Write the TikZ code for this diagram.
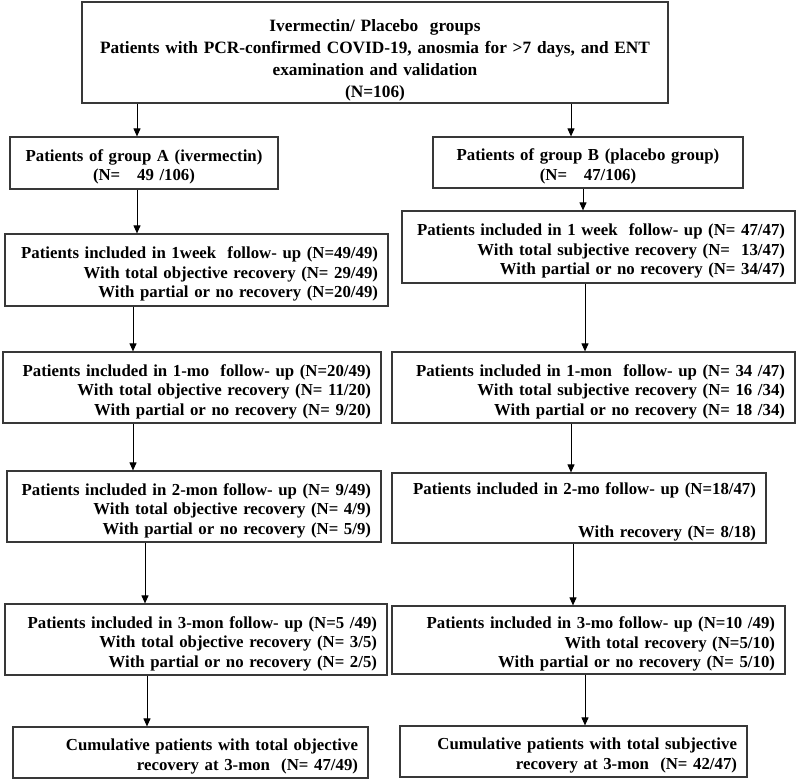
\documentclass[tikz,border=0pt]{standalone}
\usepackage{fontspec}
\setmainfont{Liberation Serif}
\usetikzlibrary{arrows.meta}
\begin{document}
\begin{tikzpicture}[x=1pt,y=-1pt,
  fbox/.style={draw=black!78, line width=1.2pt, rectangle, inner xsep=10pt, inner ysep=0pt,
    font={\fontsize{16.8}{19.5}\selectfont\bfseries}, align=right,
    execute at begin node={\rule{0pt}{20pt}}},
  sz/.code 2 args={\pgfmathsetmacro\boxtw{#1-20}\tikzset{minimum width=#1pt,minimum height=#2pt,text width=\boxtw pt}},
  arr/.style={line width=1pt, black, -{Triangle[width=7pt,length=8pt]}}]
\useasboundingbox (0,0) rectangle (798,781);

\node[fbox, sz={586}{101}, align=center, font={\fontsize{17.3}{19.5}\selectfont\bfseries},
      execute at begin node={\rule{0pt}{27pt}}] (root) at (375,52.5)
  {Ivermectin/ Placebo\ \ groups\\[2.5pt]
   Patients with PCR-confirmed COVID-19, anosmia for >7 days, and ENT\\[2.5pt]
   examination and validation\\[2.5pt]
   (N=106)};

\node[fbox, sz={268}{52}, align=center] (agrp) at (144,163)
  {Patients of group A (ivermectin)\\(N=\ \ \ 49 /106)};
\node[fbox, sz={310}{51}, align=center] (bgrp) at (588,162.5)
  {Patients of group B (placebo group)\\(N=\ \ \ 47/106)};

\node[fbox, sz={383}{72}] (a1) at (196.5,270)
  {Patients included in 1week\ \ follow- up (N=49/49)\\
   With total objective recovery (N= 29/49)\\
   With partial or no recovery (N=20/49)};
\node[fbox, sz={393}{72}] (b1) at (598.5,247)
  {Patients included in 1 week\ \ follow- up (N= 47/47)\\
   With total subjective recovery (N=\ \ 13/47)\hspace*{5pt}\\
   With partial or no recovery (N= 34/47)};

\node[fbox, sz={378}{71}] (a2) at (192,387.5)
  {Patients included in 1-mo\ \ follow- up (N=20/49)\\
   With total objective recovery (N= 11/20)\\
   With partial or no recovery (N= 9/20)};
\node[fbox, sz={403}{71}] (b2) at (593.5,387.5)
  {Patients included in 1-mon\ \ follow- up (N= 34 /47)\\
   With total subjective recovery (N= 16 /34)\hspace*{5pt}\\
   With partial or no recovery (N= 18 /34)};

\node[fbox, sz={374}{71}] (a3) at (194,506.5)
  {Patients included in 2-mon follow- up (N= 9/49)\\
   With total objective recovery (N= 4/9)\\
   With partial or no recovery (N= 5/9)};
\node[fbox, sz={374}{70}] (b3) at (579,508)
  {Patients included in 2-mo follow- up (N=18/47)\\[23pt]
   With recovery (N= 8/18)};

\node[fbox, sz={382}{71}] (a4) at (196,639.5)
  {Patients included in 3-mon follow- up (N=5 /49)\\
   With total objective recovery (N= 3/5)\\
   With partial or no recovery (N= 2/5)};
\node[fbox, sz={393}{68}] (b4) at (588.5,640)
  {Patients included in 3-mo follow- up (N=10 /49)\\
   With total recovery (N=5/10)\\
   With partial or no recovery (N= 5/10)};

\node[fbox, sz={355}{51}] (a5) at (190.5,752.5)
  {Cumulative patients with total objective\\
   recovery at 3-mon\ \ (N= 47/49)};
\node[fbox, sz={347}{51}] (b5) at (573.5,751.5)
  {Cumulative patients with total subjective\\
   recovery at 3-mon\ \ (N= 42/47)};

\coordinate (xa0) at (137,0);
\coordinate (xb0) at (571,0);
\coordinate (xa1) at (137,0);
\coordinate (xa2) at (133,0);
\coordinate (xa3) at (133,0);
\coordinate (xa4) at (145,0);
\coordinate (xa5) at (147,0);
\coordinate (xb1) at (583,0);
\coordinate (xb2) at (585,0);
\coordinate (xb3) at (571,0);
\coordinate (xb4) at (573,0);
\coordinate (xb5) at (585,0);

\draw[arr] (root.south -| xa0) -- (agrp.north -| xa0);
\draw[arr] (root.south -| xb0) -- (bgrp.north -| xb0);
\draw[arr] (agrp.south -| xa1) -- (a1.north -| xa1);
\draw[arr] (a1.south -| xa2) -- (a2.north -| xa2);
\draw[arr] (a2.south -| xa3) -- (a3.north -| xa3);
\draw[arr] (a3.south -| xa4) -- (a4.north -| xa4);
\draw[arr] (a4.south -| xa5) -- (a5.north -| xa5);
\draw[arr] (bgrp.south -| xb1) -- (b1.north -| xb1);
\draw[arr] (b1.south -| xb2) -- (b2.north -| xb2);
\draw[arr] (b2.south -| xb3) -- (b3.north -| xb3);
\draw[arr] (b3.south -| xb4) -- (b4.north -| xb4);
\draw[arr] (b4.south -| xb5) -- (b5.north -| xb5);
\end{tikzpicture}
\end{document}
